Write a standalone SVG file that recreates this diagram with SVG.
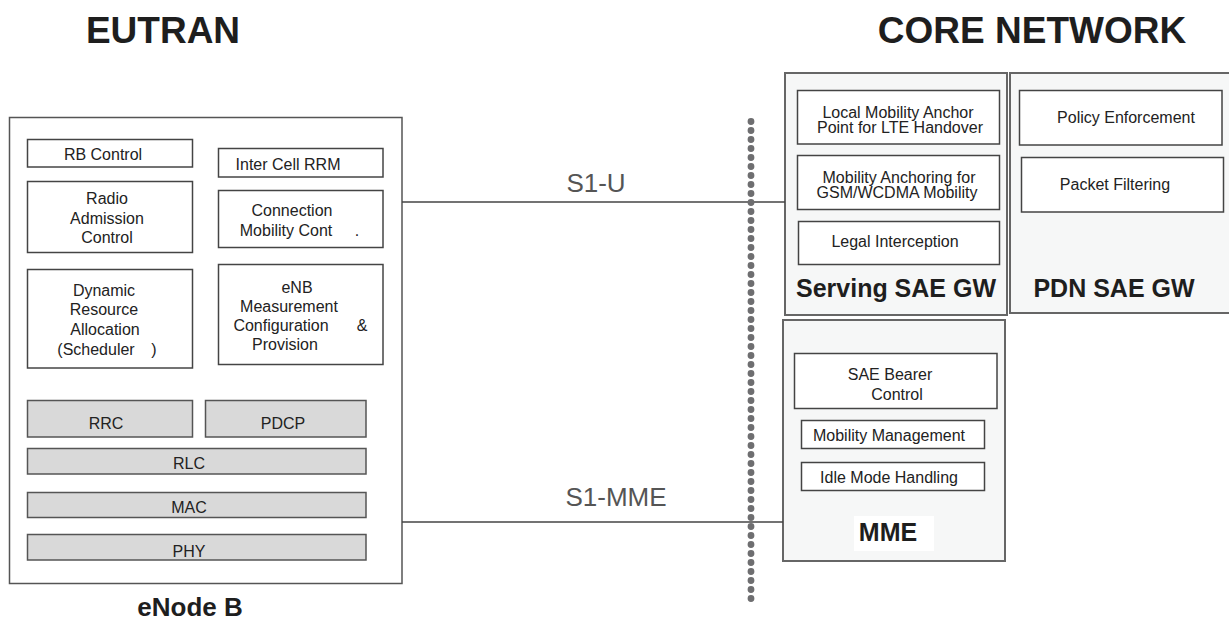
<svg xmlns="http://www.w3.org/2000/svg" width="1229" height="622" viewBox="0 0 1229 622">
<style>
text{font-family:"Liberation Sans",Arial,sans-serif;fill:#222;}
.t{font-size:16px;text-anchor:middle;}
.title{font-size:37px;font-weight:bold;text-anchor:middle;fill:#1e1e1e;}
.big{font-size:25px;font-weight:bold;text-anchor:middle;fill:#1e1e1e;}
.link{font-size:26px;text-anchor:middle;fill:#555;}
.outer{fill:#fff;stroke:#555;stroke-width:1.5;}
.core{fill:#f6f7f7;stroke:#666;stroke-width:2;}
.box{fill:#fff;stroke:#444;stroke-width:1.5;}
.layer{fill:#d9d9d9;stroke:#555;stroke-width:1.5;}
.conn{stroke:#444;stroke-width:1.5;fill:none;}
.dots{stroke:#6e6e70;stroke-width:6.8;stroke-linecap:round;stroke-dasharray:0 9;fill:none;}
</style>
<rect width="1229" height="622" fill="#fff"/>
<text class="title" x="163" y="43">EUTRAN</text>
<text class="title" x="1032" y="43">CORE NETWORK</text>

<g id="enodeb">
<rect class="outer" x="9.5" y="117.5" width="392.5" height="466"/>
<text class="big" x="190" y="616" style="font-size:26px">eNode B</text>
</g>
<g id="rb-control"><rect class="box" x="27.5" y="139.5" width="165" height="27.5"/><text class="t" x="103" y="160">RB Control</text></g>
<g id="inter-cell-rrm"><rect class="box" x="218.5" y="148.5" width="164.5" height="28.5"/><text class="t" x="288" y="170">Inter Cell RRM</text></g>
<g id="radio-admission"><rect class="box" x="27.5" y="181.5" width="165" height="71"/><text class="t" x="107" y="204">Radio</text><text class="t" x="107" y="224">Admission</text><text class="t" x="107" y="243">Control</text></g>
<g id="connection-mobility"><rect class="box" x="218.5" y="190.5" width="164.5" height="57"/><text class="t" x="292" y="216">Connection</text><text class="t" x="286" y="236">Mobility Cont<tspan x="357">.</tspan></text></g>
<g id="dra"><rect class="box" x="27.5" y="269.5" width="165" height="98.5"/><text class="t" x="104" y="296">Dynamic</text><text class="t" x="104" y="315">Resource</text><text class="t" x="105" y="335">Allocation</text><text class="t" x="96" y="355">(Scheduler<tspan x="154">)</tspan></text></g>
<g id="enb-measurement"><rect class="box" x="218.5" y="264.5" width="164.5" height="100"/><text class="t" x="297" y="293">eNB</text><text class="t" x="289" y="312">Measurement</text><text class="t" x="281" y="331">Configuration<tspan x="362">&amp;</tspan></text><text class="t" x="285" y="350">Provision</text></g>
<g id="rrc"><rect class="layer" x="27.5" y="400.5" width="165" height="36.5"/><text class="t" x="106" y="429">RRC</text></g>
<g id="pdcp"><rect class="layer" x="205.5" y="400.5" width="160.5" height="36.5"/><text class="t" x="283" y="429">PDCP</text></g>
<g id="rlc"><rect class="layer" x="27.5" y="448.5" width="338.5" height="25.5"/><text class="t" x="189" y="469">RLC</text></g>
<g id="mac"><rect class="layer" x="27.5" y="492.5" width="338.5" height="25"/><text class="t" x="189" y="513">MAC</text></g>
<g id="phy"><rect class="layer" x="27.5" y="534.5" width="338.5" height="25.5"/><text class="t" x="189" y="557">PHY</text></g>

<g id="serving-sae-gw">
<rect class="core" x="785" y="73" width="222" height="242"/>
<text class="big" x="896" y="297">Serving SAE GW</text>
</g>
<g id="lma"><rect class="box" x="797.5" y="90.5" width="202" height="53.5"/><text class="t" x="898" y="118">Local Mobility Anchor</text><text class="t" x="900" y="133">Point for LTE Handover</text></g>
<g id="mobility-anchoring"><rect class="box" x="797.5" y="155.5" width="202" height="54"/><text class="t" x="899" y="183">Mobility Anchoring for</text><text class="t" x="897" y="198">GSM/WCDMA Mobility</text></g>
<g id="legal-interception"><rect class="box" x="798.5" y="221.5" width="201" height="43"/><text class="t" x="895" y="247">Legal Interception</text></g>

<g id="pdn-sae-gw">
<rect class="core" x="1010" y="73" width="225" height="240"/>
<text class="big" x="1114" y="297">PDN SAE GW</text>
</g>
<g id="policy-enforcement"><rect class="box" x="1019.5" y="90.5" width="202.5" height="54.5"/><text class="t" x="1126" y="123">Policy Enforcement</text></g>
<g id="packet-filtering"><rect class="box" x="1021.5" y="157.5" width="202" height="54.5"/><text class="t" x="1115" y="190">Packet Filtering</text></g>

<g id="mme">
<rect class="core" x="783" y="320" width="222" height="241"/>
<rect x="854" y="516" width="80" height="35" fill="#fff"/>
<text class="big" x="888" y="541">MME</text>
</g>
<g id="sae-bearer"><rect class="box" x="794.5" y="353.5" width="202.5" height="55"/><text class="t" x="890" y="380">SAE Bearer</text><text class="t" x="897" y="400">Control</text></g>
<g id="mobility-management"><rect class="box" x="801.5" y="420.5" width="183" height="28"/><text class="t" x="889" y="441">Mobility Management</text></g>
<g id="idle-mode"><rect class="box" x="801.5" y="462.5" width="183" height="28"/><text class="t" x="889" y="483">Idle Mode Handling</text></g>

<g id="connectors">
<line class="conn" x1="402" y1="202" x2="785" y2="202"/>
<line class="conn" x1="402" y1="522" x2="783" y2="522"/>
<line class="dots" x1="751" y1="121.5" x2="751" y2="604"/>
<text class="link" x="596" y="192">S1-U</text>
<text class="link" x="616" y="506">S1-MME</text>
</g>
</svg>
